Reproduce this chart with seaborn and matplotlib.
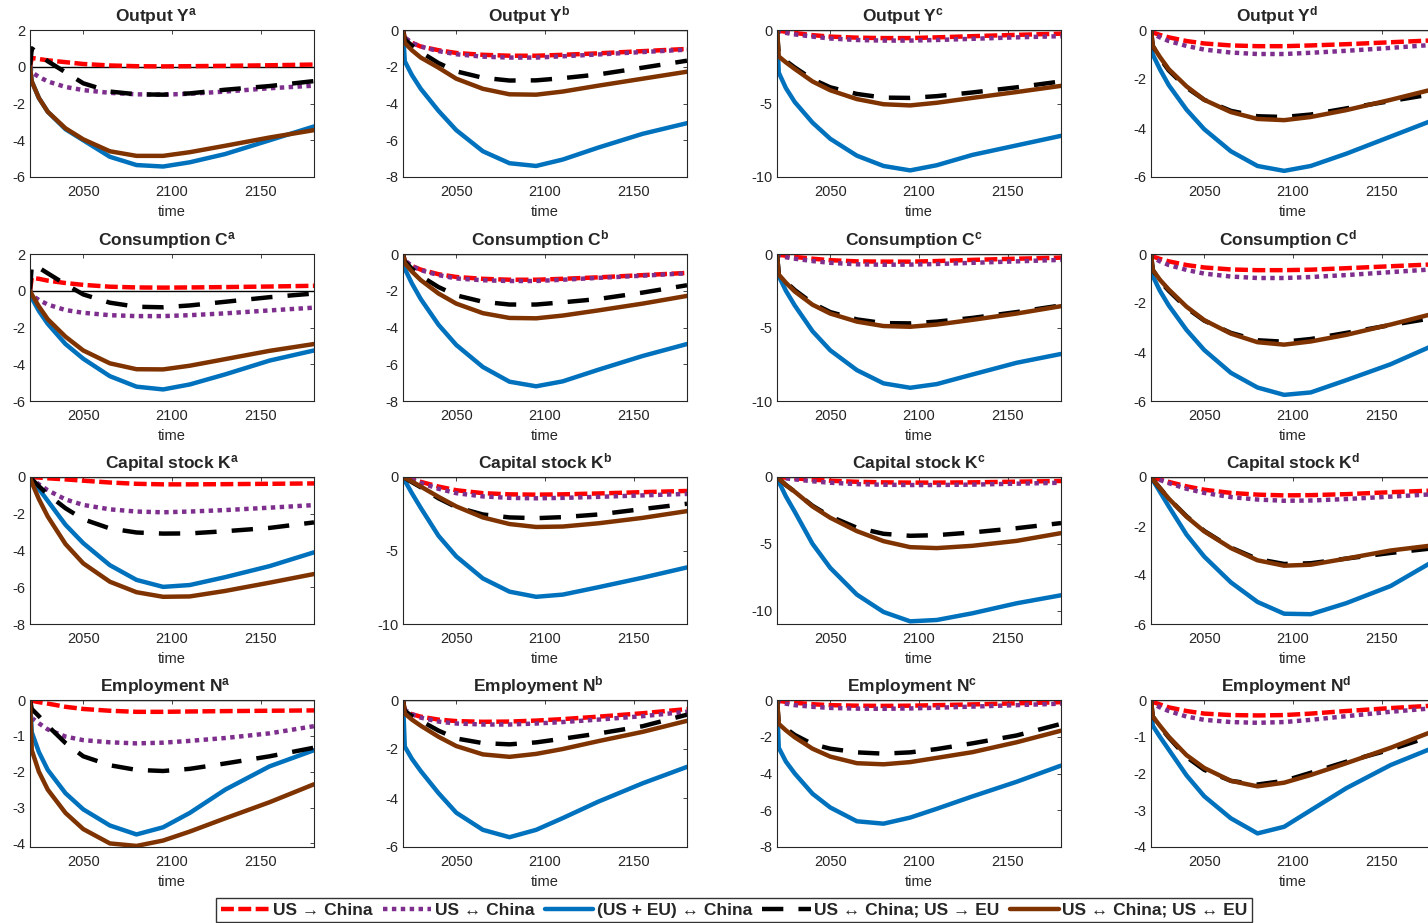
import numpy as np
import pandas as pd
import matplotlib
matplotlib.use("Agg")
import matplotlib.pyplot as plt
import seaborn as sns

# ---------------- data ----------------
T = [2020, 2021, 2025, 2030, 2040, 2050, 2065, 2080, 2095, 2110, 2130, 2155, 2180]

SCENARIOS = ["US \u2192 China", "US \u2194 China", "(US + EU) \u2194 China",
             "US \u2194 China; US \u2192 EU", "US \u2194 China; US \u2194 EU"]

# each panel: [red, purple, blue, black, brown]
Ya = [[0, 0.48, 0.42, 0.35, 0.25, 0.15, 0.07, 0.03, 0.02, 0.03, 0.05, 0.08, 0.12],
      [0, -0.3, -0.55, -0.8, -1.1, -1.27, -1.42, -1.5, -1.52, -1.47, -1.35, -1.17, -1.03],
      [0, -0.8, -1.7, -2.45, -3.4, -4.0, -4.9, -5.35, -5.43, -5.2, -4.75, -4.0, -3.25],
      [0, 1.0, 0.7, 0.3, -0.3, -0.9, -1.35, -1.5, -1.52, -1.45, -1.25, -1.05, -0.78],
      [0, -0.8, -1.7, -2.45, -3.35, -3.95, -4.6, -4.85, -4.85, -4.65, -4.3, -3.85, -3.45]]
Yb = [[0, -0.45, -0.7, -0.9, -1.1, -1.25, -1.35, -1.4, -1.4, -1.35, -1.27, -1.15, -1.03],
      [0, -0.4, -0.7, -0.9, -1.15, -1.32, -1.45, -1.5, -1.5, -1.43, -1.33, -1.2, -1.07],
      [0, -1.7, -2.45, -3.2, -4.4, -5.45, -6.6, -7.25, -7.4, -7.05, -6.4, -5.65, -5.07],
      [0, -0.5, -0.85, -1.2, -1.8, -2.25, -2.6, -2.75, -2.74, -2.62, -2.42, -2.05, -1.67],
      [0, -0.7, -1.1, -1.5, -2.05, -2.65, -3.2, -3.5, -3.52, -3.35, -3.03, -2.65, -2.27]]
Yc = [[0, -0.05, -0.12, -0.2, -0.35, -0.45, -0.52, -0.55, -0.55, -0.5, -0.42, -0.33, -0.25],
      [0, -0.1, -0.2, -0.3, -0.45, -0.58, -0.68, -0.72, -0.72, -0.68, -0.6, -0.5, -0.42],
      [0, -2.9, -3.95, -4.9, -6.3, -7.4, -8.55, -9.25, -9.55, -9.2, -8.5, -7.85, -7.2],
      [0, -1.7, -2.1, -2.55, -3.35, -3.9, -4.35, -4.6, -4.62, -4.5, -4.25, -3.9, -3.5],
      [0, -1.8, -2.2, -2.65, -3.5, -4.1, -4.7, -5.05, -5.13, -4.95, -4.62, -4.22, -3.8]]
Yd = [[0, -0.1, -0.2, -0.3, -0.45, -0.55, -0.63, -0.66, -0.66, -0.63, -0.58, -0.5, -0.42],
      [0, -0.15, -0.3, -0.45, -0.65, -0.8, -0.92, -0.98, -0.98, -0.93, -0.85, -0.73, -0.6],
      [0, -1.0, -1.6, -2.25, -3.25, -4.05, -4.95, -5.55, -5.75, -5.55, -5.05, -4.35, -3.65],
      [0, -0.65, -1.15, -1.65, -2.35, -2.85, -3.3, -3.52, -3.55, -3.45, -3.2, -2.9, -2.6],
      [0, -0.65, -1.1, -1.6, -2.3, -2.85, -3.35, -3.63, -3.68, -3.55, -3.27, -2.85, -2.4]]

Ca = [[0, 0.7, 0.65, 0.55, 0.42, 0.32, 0.22, 0.18, 0.17, 0.18, 0.2, 0.23, 0.27],
      [0, -0.25, -0.5, -0.75, -1.05, -1.2, -1.33, -1.38, -1.38, -1.33, -1.23, -1.07, -0.92],
      [0, -0.4, -1.1, -1.8, -2.9, -3.7, -4.65, -5.22, -5.37, -5.1, -4.55, -3.8, -3.25],
      [0, 1.4, 1.25, 0.95, 0.35, -0.2, -0.65, -0.87, -0.9, -0.8, -0.6, -0.35, -0.15],
      [0, -0.2, -0.85, -1.55, -2.5, -3.25, -3.95, -4.27, -4.28, -4.08, -3.72, -3.27, -2.9]]
Cb = [[0, -0.4, -0.65, -0.85, -1.1, -1.25, -1.35, -1.4, -1.4, -1.35, -1.27, -1.15, -1.03],
      [0, -0.35, -0.65, -0.88, -1.15, -1.33, -1.43, -1.47, -1.47, -1.4, -1.3, -1.18, -1.05],
      [0, -0.8, -1.6, -2.45, -3.85, -4.95, -6.15, -6.95, -7.2, -6.93, -6.3, -5.55, -4.9],
      [0, -0.4, -0.8, -1.2, -1.8, -2.25, -2.6, -2.75, -2.75, -2.63, -2.45, -2.1, -1.7],
      [0, -0.5, -0.95, -1.42, -2.15, -2.7, -3.22, -3.48, -3.5, -3.35, -3.07, -2.7, -2.28]]
Cc = [[0, -0.05, -0.12, -0.2, -0.32, -0.42, -0.5, -0.52, -0.52, -0.48, -0.4, -0.32, -0.25],
      [0, -0.1, -0.22, -0.32, -0.48, -0.6, -0.7, -0.73, -0.72, -0.68, -0.6, -0.5, -0.4],
      [0, -1.5, -2.5, -3.5, -5.25, -6.55, -7.9, -8.8, -9.1, -8.85, -8.2, -7.4, -6.8],
      [0, -1.4, -1.9, -2.45, -3.35, -3.95, -4.45, -4.7, -4.72, -4.6, -4.35, -3.95, -3.5],
      [0, -1.4, -1.95, -2.55, -3.45, -4.05, -4.6, -4.9, -4.95, -4.8, -4.48, -4.05, -3.55]]
Cd = [[0, -0.1, -0.2, -0.3, -0.45, -0.55, -0.63, -0.66, -0.66, -0.64, -0.58, -0.5, -0.42],
      [0, -0.15, -0.3, -0.45, -0.65, -0.8, -0.92, -0.98, -0.98, -0.94, -0.86, -0.74, -0.62],
      [0, -0.9, -1.5, -2.1, -3.1, -3.92, -4.85, -5.45, -5.75, -5.65, -5.15, -4.5, -3.7],
      [0, -0.65, -1.1, -1.5, -2.2, -2.72, -3.22, -3.52, -3.58, -3.47, -3.22, -2.9, -2.6],
      [0, -0.65, -1.05, -1.45, -2.15, -2.7, -3.25, -3.6, -3.7, -3.57, -3.3, -2.88, -2.42]]

Ka = [[0, -0.01, -0.03, -0.07, -0.13, -0.2, -0.3, -0.37, -0.4, -0.4, -0.39, -0.37, -0.35],
      [0, -0.1, -0.4, -0.72, -1.22, -1.52, -1.76, -1.88, -1.92, -1.88, -1.8, -1.67, -1.53],
      [0, -0.15, -0.65, -1.3, -2.6, -3.6, -4.8, -5.6, -5.98, -5.88, -5.45, -4.85, -4.1],
      [0, -0.12, -0.5, -0.95, -1.7, -2.3, -2.8, -3.02, -3.08, -3.07, -2.95, -2.77, -2.47],
      [0, -0.3, -1.2, -2.15, -3.65, -4.7, -5.7, -6.27, -6.52, -6.5, -6.2, -5.75, -5.28]]
Kb = [[0, -0.03, -0.15, -0.33, -0.65, -0.9, -1.1, -1.18, -1.2, -1.18, -1.12, -1.03, -0.95],
      [0, -0.04, -0.18, -0.4, -0.8, -1.1, -1.32, -1.42, -1.45, -1.42, -1.35, -1.25, -1.15],
      [0, -0.25, -1.1, -2.1, -4.0, -5.4, -6.9, -7.8, -8.15, -8.0, -7.5, -6.85, -6.15],
      [0, -0.07, -0.35, -0.7, -1.45, -2.05, -2.55, -2.75, -2.8, -2.73, -2.55, -2.18, -1.82],
      [0, -0.06, -0.3, -0.65, -1.35, -2.0, -2.75, -3.2, -3.4, -3.37, -3.15, -2.78, -2.32]]
Kc = [[0, -0.01, -0.05, -0.1, -0.2, -0.28, -0.36, -0.4, -0.42, -0.42, -0.4, -0.35, -0.3],
      [0, -0.02, -0.1, -0.18, -0.32, -0.43, -0.53, -0.58, -0.6, -0.6, -0.57, -0.5, -0.43],
      [0, -0.35, -1.45, -2.6, -5.0, -6.8, -8.8, -10.1, -10.8, -10.7, -10.2, -9.45, -8.85],
      [0, -0.12, -0.6, -1.1, -2.15, -2.95, -3.8, -4.25, -4.4, -4.35, -4.15, -3.83, -3.45],
      [0, -0.12, -0.6, -1.1, -2.2, -3.05, -4.05, -4.8, -5.25, -5.32, -5.15, -4.78, -4.2]]
Kd = [[0, -0.02, -0.1, -0.2, -0.38, -0.52, -0.65, -0.72, -0.75, -0.74, -0.7, -0.62, -0.55],
      [0, -0.02, -0.12, -0.25, -0.48, -0.65, -0.82, -0.92, -0.97, -0.96, -0.9, -0.8, -0.7],
      [0, -0.12, -0.6, -1.2, -2.35, -3.25, -4.3, -5.1, -5.58, -5.6, -5.15, -4.45, -3.4],
      [0, -0.1, -0.45, -0.88, -1.6, -2.2, -2.88, -3.35, -3.55, -3.52, -3.33, -3.1, -2.9],
      [0, -0.1, -0.45, -0.88, -1.62, -2.22, -2.9, -3.4, -3.62, -3.58, -3.33, -3.0, -2.78]]

Na = [[0, -0.02, -0.06, -0.1, -0.19, -0.25, -0.3, -0.33, -0.33, -0.32, -0.31, -0.3, -0.29],
      [0, -0.5, -0.65, -0.82, -1.02, -1.12, -1.18, -1.21, -1.19, -1.14, -1.06, -0.93, -0.73],
      [0, -0.9, -1.45, -1.95, -2.6, -3.05, -3.5, -3.75, -3.55, -3.15, -2.5, -1.85, -1.4],
      [0, -0.25, -0.45, -0.72, -1.2, -1.57, -1.82, -1.95, -1.98, -1.92, -1.77, -1.57, -1.33],
      [0, -1.4, -2.0, -2.5, -3.15, -3.6, -4.0, -4.07, -3.92, -3.67, -3.3, -2.85, -2.35]]
Nb = [[0, -0.45, -0.58, -0.68, -0.8, -0.86, -0.89, -0.88, -0.84, -0.78, -0.68, -0.54, -0.37],
      [0, -0.4, -0.58, -0.72, -0.88, -0.96, -1.0, -1.0, -0.96, -0.9, -0.8, -0.66, -0.48],
      [0, -1.9, -2.4, -2.9, -3.8, -4.6, -5.3, -5.6, -5.3, -4.82, -4.15, -3.4, -2.73],
      [0, -0.45, -0.65, -0.85, -1.25, -1.57, -1.76, -1.81, -1.73, -1.58, -1.37, -1.07, -0.6],
      [0, -0.55, -0.8, -1.05, -1.5, -1.88, -2.22, -2.32, -2.2, -2.0, -1.68, -1.3, -0.85]]
Nc = [[0, -0.05, -0.1, -0.15, -0.23, -0.28, -0.31, -0.32, -0.31, -0.28, -0.24, -0.18, -0.12],
      [0, -0.1, -0.2, -0.28, -0.37, -0.43, -0.47, -0.48, -0.46, -0.42, -0.36, -0.28, -0.2],
      [0, -2.6, -3.35, -4.0, -5.1, -5.85, -6.6, -6.73, -6.4, -5.92, -5.25, -4.45, -3.57],
      [0, -1.25, -1.55, -1.9, -2.4, -2.65, -2.85, -2.92, -2.85, -2.67, -2.36, -1.93, -1.3],
      [0, -1.3, -1.65, -2.03, -2.65, -3.08, -3.44, -3.5, -3.38, -3.15, -2.84, -2.3, -1.67]]
Nd = [[0, -0.05, -0.12, -0.2, -0.3, -0.37, -0.41, -0.42, -0.41, -0.37, -0.3, -0.22, -0.15],
      [0, -0.1, -0.2, -0.3, -0.45, -0.54, -0.6, -0.62, -0.6, -0.54, -0.44, -0.32, -0.22],
      [0, -0.7, -1.0, -1.35, -2.05, -2.62, -3.22, -3.63, -3.45, -3.0, -2.4, -1.77, -1.28],
      [0, -0.45, -0.72, -1.02, -1.55, -1.9, -2.2, -2.3, -2.2, -1.98, -1.68, -1.35, -0.95],
      [0, -0.45, -0.7, -1.0, -1.5, -1.85, -2.2, -2.35, -2.25, -2.04, -1.72, -1.3, -0.83]]

TITLES = [["Output", "Y"], ["Consumption", "C"], ["Capital stock", "K"], ["Employment", "N"]]
SUFFIX = ["a", "b", "c", "d"]
PANELS = [[Ya, Yb, Yc, Yd], [Ca, Cb, Cc, Cd], [Ka, Kb, Kc, Kd], [Na, Nb, Nc, Nd]]
YLIMS = [[(-6, 2), (-8, 0), (-10, 0), (-6, 0)],
         [(-6, 2), (-8, 0), (-10, 0), (-6, 0)],
         [(-8, 0), (-10, 0), (-11, 0), (-6, 0)],
         [(-4.1, 0), (-6, 0), (-8, 0), (-4, 0)]]
YTICKS = [[[-6, -4, -2, 0, 2], [-8, -6, -4, -2, 0], [-10, -5, 0], [-6, -4, -2, 0]],
          [[-6, -4, -2, 0, 2], [-8, -6, -4, -2, 0], [-10, -5, 0], [-6, -4, -2, 0]],
          [[-8, -6, -4, -2, 0], [-10, -5, 0], [-10, -5, 0], [-6, -4, -2, 0]],
          [[-4, -3, -2, -1, 0], [-6, -4, -2, 0], [-8, -6, -4, -2, 0], [-4, -3, -2, -1, 0]]]
XTICKS = [2050, 2100, 2150]

# ---------------- style ----------------
sns.set_style("white")
plt.rcParams["font.family"] = ["Liberation Sans", "DejaVu Sans"]
plt.rcParams["mathtext.fontset"] = "custom"
plt.rcParams["mathtext.rm"] = "Liberation Sans"
plt.rcParams["mathtext.bf"] = "Liberation Sans:bold"
plt.rcParams["mathtext.it"] = "Liberation Sans:italic"
plt.rcParams["axes.unicode_minus"] = False

COLORS = ["#FF0000", "#7E2F8E", "#0072BD", "#000000", "#7F3300"]
DASHES = [(2.9, 1.0), (1.0, 1.0), "", (4.8, 3.4), ""]
palette = dict(zip(SCENARIOS, COLORS))
dashes = dict(zip(SCENARIOS, DASHES))
AXC = "#262626"

W, H = 1428, 923
fig = plt.figure(figsize=(W / 100, H / 100), dpi=100)

col_left = [30, 403, 777, 1151]
col_w = 284
row_top = [30, 254, 477, 700]
row_h = 147
title_dx = [-16, -5, 0, -7]   # px offset of title centre per row

for r in range(4):
    for c in range(4):
        ax = fig.add_axes([col_left[c] / W, 1 - (row_top[r] + row_h) / H, col_w / W, row_h / H])
        data = PANELS[r][c]
        rows = []
        for s, vals in zip(SCENARIOS, data):
            for t, v in zip(T, vals):
                rows.append({"time": t, "value": v, "scenario": s})
        df = pd.DataFrame(rows)
        ax.axhline(0, color="k", lw=1.0, zorder=1)
        sns.lineplot(data=df, x="time", y="value", hue="scenario", style="scenario",
                     hue_order=SCENARIOS, style_order=SCENARIOS,
                     palette=palette, dashes=dashes, linewidth=3.2,
                     estimator=None, errorbar=None, sort=False, ax=ax, legend=(r == 0 and c == 0))
        ax.set_xlim(2020, 2180)
        ax.set_ylim(*YLIMS[r][c])
        ax.set_xticks(XTICKS)
        ax.set_yticks(YTICKS[r][c])
        ax.set_xlabel("time", fontsize=10.5, color=AXC, labelpad=4)
        ax.set_ylabel("")
        name, sym = TITLES[r]
        ax.set_title(name + r" $\mathbf{" + sym + r"}^{\mathbf{" + SUFFIX[c] + r"}}$",
                     fontsize=12.5, fontweight="bold", pad=6,
                     x=0.5 + title_dx[r] / col_w)
        ax.tick_params(direction="in", top=True, right=True, length=3, width=0.6,
                       colors=AXC, labelsize=10.5)
        ax.tick_params(axis="x", pad=6)
        ax.tick_params(axis="y", pad=3)
        for sp in ax.spines.values():
            sp.set_color(AXC)
            sp.set_linewidth(0.8)
        if r == 0 and c == 0:
            handles, labels = ax.get_legend_handles_labels()
            ax.get_legend().remove()

leg = fig.legend(handles, labels, loc="lower center", bbox_to_anchor=(734 / W, 1 / H),
                 ncol=5, frameon=True, fancybox=False, edgecolor="black",
                 prop={"weight": "bold", "size": 12.5}, handlelength=2.8,
                 handletextpad=0.2, columnspacing=0.6, borderpad=0.25, borderaxespad=0)
leg.get_frame().set_linewidth(1.0)
for h in leg.get_lines():
    h.set_linewidth(3.2)

fig.savefig("out.png", dpi=100)
